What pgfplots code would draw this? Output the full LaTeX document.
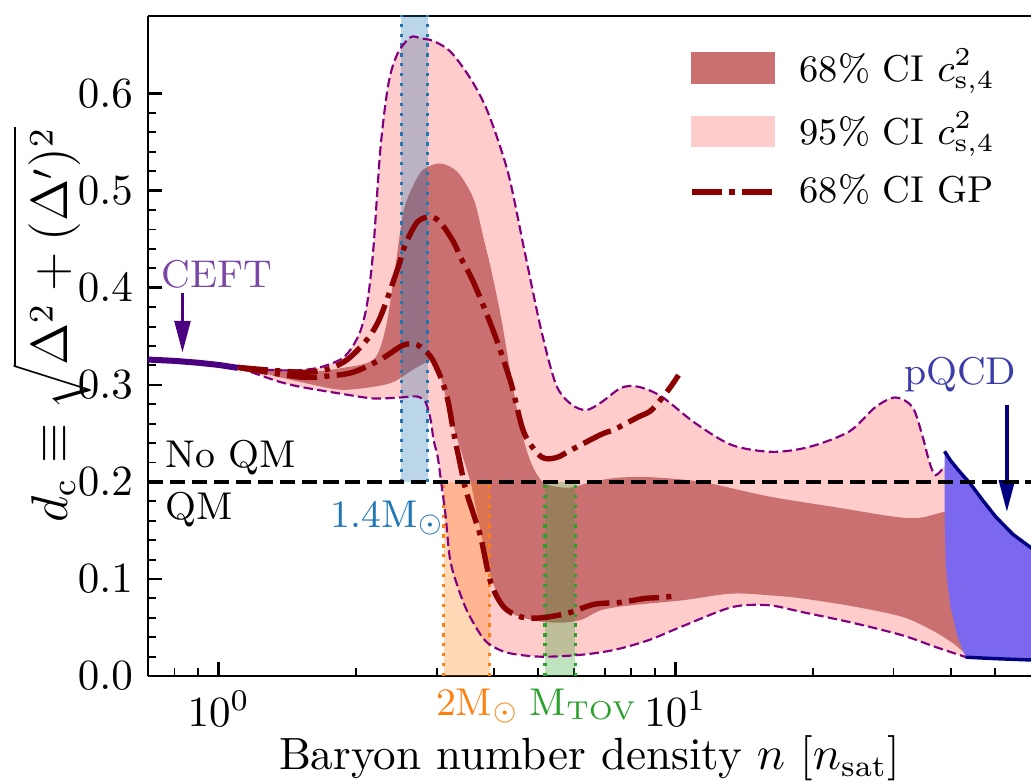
\documentclass[border=0pt]{standalone}
\usepackage{pgfplots}
\pgfplotsset{compat=1.18}
\usepgfplotslibrary{fillbetween}
\usetikzlibrary{arrows.meta}

\definecolor{tabblue}{RGB}{31,119,180}
\definecolor{taborange}{RGB}{255,127,14}
\definecolor{tabgreen}{RGB}{44,160,44}
\definecolor{dred}{RGB}{139,0,0}
\definecolor{purp}{RGB}{128,0,128}
\definecolor{indig}{RGB}{75,0,130}
\definecolor{ceftlbl}{RGB}{120,70,165}
\definecolor{msblue}{RGB}{123,104,238}
\definecolor{navyb}{RGB}{0,0,128}
\definecolor{pqcdlbl}{RGB}{60,60,170}
\definecolor{leg68}{RGB}{203,112,112}
\definecolor{leg95}{RGB}{255,204,204}

\begin{document}
\begin{tikzpicture}
\begin{axis}[
    scale only axis, width=205.3pt, height=153.5pt,
    xmode=log, xmin=0.7, xmax=60, ymin=0, ymax=0.68,
    axis x line*=box, axis y line*=left,
    xtick={1,10}, minor xtick={0.8,0.9,2,3,4,5,6,7,8,9,20,30,40,50},
    ytick={0,0.1,0.2,0.3,0.4,0.5,0.6}, minor y tick num=4,
    xtick pos=left, ytick pos=left,
    tick align=inside,
    major tick length=3.3pt, minor tick length=1.9pt,
    major tick style={line width=0.6pt, black},
    minor tick style={line width=0.45pt, black},
    axis line style={line width=0.55pt},
    yticklabel style={/pgf/number format/fixed, /pgf/number format/precision=1,
        /pgf/number format/fixed zerofill},
    tick label style={font=\fontsize{10}{12}\selectfont},
    xlabel={Baryon number density $n$ [$n_{\mathrm{sat}}$]},
    ylabel={$d_{\mathrm{c}} \equiv \sqrt{\Delta^2 + (\Delta')^2}$},
    xlabel style={at={(axis description cs:0.5,-0.142)}, anchor=base,
        font=\fontsize{10.5}{12}\selectfont},
    ylabel style={at={(axis description cs:-0.109,0.532)}, anchor=center,
        inner sep=0pt, font=\fontsize{11.7}{14}\selectfont},
    clip mode=individual,
    legend style={draw=none, fill=none, inner sep=0pt,
        at={(rel axis cs:0.612,0.965)}, anchor=north west,
        font=\fontsize{8.7}{10}\selectfont, row sep=1.5pt, column sep=3.4pt},
    legend cell align=left,
]
\coordinate (bl) at (rel axis cs:0,0);
\coordinate (tr) at (rel axis cs:1,1);

\addlegendimage{legend image code/.code={\fill[leg68] (0pt,-3.5pt) rectangle (19pt,3.5pt);}}
\addlegendentry{68\% CI $c^2_{\mathrm{s},4}$}
\addlegendimage{legend image code/.code={\fill[leg95] (0pt,-3.5pt) rectangle (19pt,3.5pt);}}
\addlegendentry{95\% CI $c^2_{\mathrm{s},4}$}
\addlegendimage{legend image code/.code={\draw[dred, line width=1.25pt,
    dash pattern=on 7pt off 1.7pt on 1.2pt off 1.7pt] (0pt,0pt) -- (19pt,0pt);}}
\addlegendentry{68\% CI GP}

% mass bands (under the semi-transparent CI fills)
\addplot[fill=tabblue, fill opacity=0.3, draw=none, forget plot]
    coordinates {(2.512,0.2) (2.866,0.2) (2.866,0.7) (2.512,0.7)} -- cycle;
\addplot[fill=taborange, fill opacity=0.3, draw=none, forget plot]
    coordinates {(3.107,0) (3.922,0) (3.922,0.2) (3.107,0.2)} -- cycle;
\addplot[fill=tabgreen, fill opacity=0.3, draw=none, forget plot]
    coordinates {(5.181,0) (6.030,0) (6.030,0.2) (5.181,0.2)} -- cycle;
\pgfplotsset{bandedge/.style={line width=0.75pt, dash pattern=on 0.75pt off 1.55pt, forget plot}}
\addplot[tabblue, bandedge] coordinates {(2.512,0.2) (2.512,0.7)};
\addplot[tabblue, bandedge] coordinates {(2.866,0.2) (2.866,0.7)};
\addplot[taborange, bandedge] coordinates {(3.107,0) (3.107,0.2)};
\addplot[taborange, bandedge] coordinates {(3.922,0) (3.922,0.2)};
\addplot[tabgreen, bandedge] coordinates {(5.181,0) (5.181,0.2)};
\addplot[tabgreen, bandedge] coordinates {(6.030,0) (6.030,0.2)};

% 95% CI
\addplot[name path=u95, draw=none, smooth, forget plot] coordinates {
 (1.101,0.318) (1.230,0.316) (1.362,0.315) (1.507,0.315) (1.667,0.318)
 (1.845,0.326) (1.941,0.336) (2.041,0.355) (2.115,0.385) (2.180,0.44)
 (2.259,0.543) (2.352,0.610) (2.462,0.641) (2.629,0.658) (2.766,0.657)
 (2.954,0.654) (3.219,0.643) (3.562,0.615) (3.882,0.581) (4.296,0.519)
 (4.656,0.441) (5.077,0.357) (5.477,0.300) (5.910,0.280) (6.375,0.274)
 (6.878,0.282) (7.609,0.297) (8.294,0.298) (9.316,0.288) (11.01,0.261)
 (13.28,0.238) (16.26,0.231) (19.60,0.236) (24.01,0.252) (27.37,0.277)
 (30.29,0.287) (33.02,0.277) (34.73,0.247) (35.97,0.220) (37.09,0.207)
 (38.81,0.216) (40.0,0.21) (43.6,0.19)
};
\addplot[name path=l95, draw=none, smooth, forget plot] coordinates {
 (1.101,0.318) (1.230,0.310) (1.362,0.303) (1.507,0.298) (1.845,0.291)
 (2.180,0.286) (2.499,0.287) (2.724,0.288) (2.837,0.282) (2.910,0.264)
 (2.954,0.243) (3.015,0.226) (3.07,0.199) (3.14,0.164) (3.219,0.117)
 (3.438,0.075) (3.66,0.050) (3.882,0.034) (4.296,0.024) (5.077,0.020)
 (6.216,0.022) (7.344,0.027) (8.726,0.037) (10.31,0.051) (13.28,0.071)
 (16.0,0.073) (18.92,0.066) (24.37,0.055) (31.39,0.042) (37.09,0.030)
 (43.6,0.019)
};
\addplot[fill=red, fill opacity=0.2, draw=none, forget plot] fill between[of=u95 and l95];

% 68% CI
\addplot[name path=u68, draw=none, smooth, forget plot] coordinates {
 (1.101,0.318) (1.507,0.313) (1.845,0.317) (2.180,0.326) (2.316,0.357)
 (2.413,0.408) (2.537,0.478) (2.670,0.506) (2.808,0.522) (3.060,0.528)
 (3.335,0.519) (3.617,0.491) (3.804,0.450) (3.942,0.42) (4.147,0.37)
 (4.362,0.31) (4.586,0.255) (4.825,0.22) (5.155,0.199) (5.821,0.194)
 (6.440,0.199) (7.344,0.204) (8.726,0.205) (11.41,0.200) (16.01,0.185)
 (22.36,0.174) (30.29,0.164) (34.20,0.163) (37.84,0.168) (43.6,0.176)
};
\addplot[name path=l68, draw=none, smooth, forget plot] coordinates {
 (1.101,0.318) (1.507,0.303) (1.845,0.295) (2.180,0.298) (2.413,0.303)
 (2.670,0.316) (2.866,0.324) (2.954,0.326) (3.060,0.308) (3.219,0.267)
 (3.386,0.233) (3.562,0.199) (3.690,0.164) (3.942,0.102) (4.296,0.068)
 (4.825,0.058) (5.533,0.055) (6.216,0.058) (6.878,0.068) (8.004,0.073)
 (10.31,0.078) (13.28,0.085) (16.26,0.083) (18.92,0.080) (24.37,0.072)
 (31.39,0.061) (36.52,0.047) (40.44,0.034) (43.6,0.021)
};
\addplot[fill=dred, fill opacity=0.45, draw=none, forget plot] fill between[of=u68 and l68];

% 95% boundaries
\pgfplotsset{cibound/.style={purp, line width=0.5pt, dash pattern=on 2.2pt off 1pt, smooth, forget plot}}
\addplot[cibound] coordinates {
 (1.101,0.318) (1.230,0.316) (1.362,0.315) (1.507,0.315) (1.667,0.318)
 (1.845,0.326) (1.941,0.336) (2.041,0.355) (2.115,0.385) (2.180,0.44)
 (2.259,0.543) (2.352,0.610) (2.462,0.641) (2.629,0.658) (2.766,0.657)
 (2.954,0.654) (3.219,0.643) (3.562,0.615) (3.882,0.581) (4.296,0.519)
 (4.656,0.441) (5.077,0.357) (5.477,0.300) (5.910,0.280) (6.375,0.274)
 (6.878,0.282) (7.609,0.297) (8.294,0.298) (9.316,0.288) (11.01,0.261)
 (13.28,0.238) (16.26,0.231) (19.60,0.236) (24.01,0.252) (27.37,0.277)
 (30.29,0.287) (33.02,0.277) (34.73,0.247) (35.97,0.220) (37.09,0.207)
 (38.81,0.216)
};
\addplot[cibound] coordinates {
 (1.101,0.318) (1.230,0.310) (1.362,0.303) (1.507,0.298) (1.845,0.291)
 (2.180,0.286) (2.499,0.287) (2.724,0.288) (2.837,0.282) (2.910,0.264)
 (2.954,0.243) (3.015,0.226) (3.07,0.199) (3.14,0.164) (3.219,0.117)
 (3.438,0.075) (3.66,0.050) (3.882,0.034) (4.296,0.024) (5.077,0.020)
 (6.216,0.022) (7.344,0.027) (8.726,0.037) (10.31,0.051) (13.28,0.071)
 (16.0,0.073) (18.92,0.066) (24.37,0.055) (31.39,0.042) (37.09,0.030)
 (43.6,0.019)
};

% GP 68% CI
\pgfplotsset{gp/.style={dred, line width=1.25pt, dash pattern=on 7pt off 1.7pt on 1.2pt off 1.7pt, smooth, forget plot}}
\addplot[gp] coordinates {
 (1.101,0.318) (1.507,0.313) (1.727,0.316) (1.911,0.326) (2.115,0.347)
 (2.259,0.370) (2.462,0.419) (2.564,0.445) (2.724,0.468) (2.910,0.473)
 (3.060,0.467) (3.268,0.447) (3.386,0.431) (3.617,0.405) (4.002,0.354)
 (4.362,0.302) (4.656,0.251) (5.077,0.226) (5.477,0.225) (5.910,0.233)
 (6.878,0.249) (7.344,0.254) (8.294,0.267) (8.859,0.274) (9.652,0.295)
 (10.15,0.310)
};
\addplot[gp] coordinates {
 (1.101,0.318) (1.507,0.308) (1.727,0.309) (1.97,0.313) (2.259,0.326)
 (2.537,0.341) (2.724,0.341) (2.910,0.329) (3.060,0.308) (3.171,0.285)
 (3.268,0.251) (3.386,0.216) (3.473,0.192) (3.617,0.166) (3.747,0.143)
 (3.942,0.096) (4.210,0.071) (4.586,0.061) (5.077,0.060) (5.821,0.065)
 (6.638,0.074) (7.609,0.076) (8.551,0.080) (9.316,0.081) (10.15,0.083)
};

% CEFT
\addplot[indig, line width=1.4pt, forget plot] coordinates {
 (0.69,0.3262) (0.8,0.3247) (0.9,0.3228) (1.0,0.3205) (1.1,0.3175)
};
\addplot[indig, line width=0.9pt, -{Triangle[length=7.4pt,width=3.6pt]}, forget plot]
    coordinates {(0.833,0.395) (0.833,0.333)};

% pQCD
\addplot[fill=msblue, draw=none, forget plot] coordinates {
 (38.81,0.2315) (40.0,0.222) (41.46,0.213) (42.7,0.206) (44.06,0.199)
 (47.05,0.181) (50.24,0.164) (54.77,0.146) (60.91,0.130) (65,0.125)
 (65,0.0163) (60.91,0.0165) (50,0.018) (43.17,0.0195) (41.46,0.040)
 (40.0,0.071) (39.4,0.095) (39.01,0.117) (38.85,0.168)
} -- cycle;
\addplot[navyb, line width=0.8pt, forget plot] coordinates {
 (38.81,0.2315) (40.0,0.222) (41.46,0.213) (42.7,0.206) (44.06,0.199)
 (47.05,0.181) (50.24,0.164) (54.77,0.146) (60.91,0.130) (65,0.125)
};
\addplot[navyb, line width=0.8pt, forget plot] coordinates {
 (43.17,0.0195) (50,0.018) (60.91,0.0165) (65,0.0163)
};
\addplot[navyb, line width=0.9pt, -{Triangle[length=7.4pt,width=3.6pt]}, forget plot]
    coordinates {(53.13,0.2795) (53.13,0.169)};

% QM threshold
\addplot[black, line width=1pt, dash pattern=on 3.5pt off 1.6pt, forget plot]
    coordinates {(0.7,0.2) (60,0.2)};

% annotations
\begin{scope}[every node/.style={inner sep=0pt, font=\fontsize{9}{11}\selectfont}]
\node[anchor=base, text=ceftlbl] at (axis cs:0.99,0.400) {CEFT};
\node[anchor=base, text=pqcdlbl] at (axis cs:42.0,0.300) {pQCD};
\node[anchor=base west] at (axis cs:0.762,0.2145) {No QM};
\node[anchor=base west] at (axis cs:0.762,0.161) {QM};
\node[anchor=base, text=tabblue] at (axis cs:2.34,0.153) {1.4M$_\odot$};
\node[anchor=base, text=taborange] at (axis cs:3.69,-0.0402) {2M$_\odot$};
\node[anchor=base, text=tabgreen] at (axis cs:6.30,-0.0402) {M$_{\mathrm{TOV}}$};
\end{scope}
\end{axis}
\pgfresetboundingbox
\path[use as bounding box] ([shift={(-34.4pt,-24.9pt)}]bl) rectangle ([shift={(0pt,3.7pt)}]tr);
\end{tikzpicture}
\end{document}
